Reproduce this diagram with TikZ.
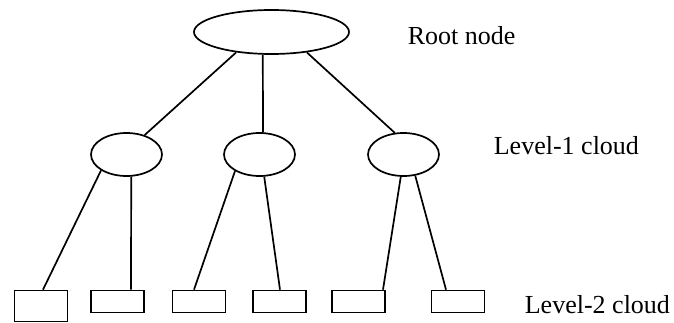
\documentclass[tikz,border=0pt]{standalone}
\usepackage{fontspec}
\setmainfont{Liberation Serif}
\usetikzlibrary{shapes.geometric}
\begin{document}
\begin{tikzpicture}[x=1pt,y=-1pt,line width=1.7pt,
  rootshape/.style={ellipse,draw,inner sep=0pt,minimum width=155pt,minimum height=44pt},
  cloudshape/.style={ellipse,draw,inner sep=0pt,minimum width=71pt,minimum height=43pt},
  leafbox/.style={rectangle,draw,inner sep=0pt,minimum width=53pt,minimum height=22pt},
  tallbox/.style={leafbox,minimum height=31pt},
  caption/.style={anchor=base west,inner sep=0pt,font=\fontsize{26}{30}\selectfont}]
\useasboundingbox (0,0) rectangle (674,323);

% tree nodes
\node[rootshape] (root) at (271.5,32) {};
\node[cloudshape] (c1) at (126.5,154.5) {};
\node[cloudshape] (c2) at (259.5,154.5) {};
\node[cloudshape] (c3) at (403.5,154.5) {};

\node[tallbox] (b1) at (41,306) {};
\node[leafbox] (b2) at (117.5,301.5) {};
\node[leafbox] (b3) at (199,301.5) {};
\node[leafbox] (b4) at (279.5,301.5) {};
\node[leafbox] (b5) at (358.5,301.5) {};
\node[leafbox] (b6) at (458,301.5) {};

% root to level-1
\draw (root.210) -- (c1.47);
\draw (root.249) -- (c2.81);
\draw (root.330) -- (c3.112);

% level-1 to level-2
\draw (c1.212.5) -- ([xshift=2pt]b1.north);
\draw (c1.282) -- ([xshift=13.5pt]b2.north);
\draw (c2.214.4) -- ([xshift=-5pt]b3.north);
\draw (c2.282) -- ([xshift=0.5pt]b4.north);
\draw (c3.263.4) -- ([xshift=24.5pt]b5.north);
\draw (c3.299.5) -- ([xshift=-12pt]b6.north);

% level labels
\node[caption] (lroot) at (407,45) {Root node};
\node[caption] (lone) at (493,155) {Level-1 cloud};
\node[caption] (ltwo) at (524,313) {Level-2 cloud};
\end{tikzpicture}
\end{document}
